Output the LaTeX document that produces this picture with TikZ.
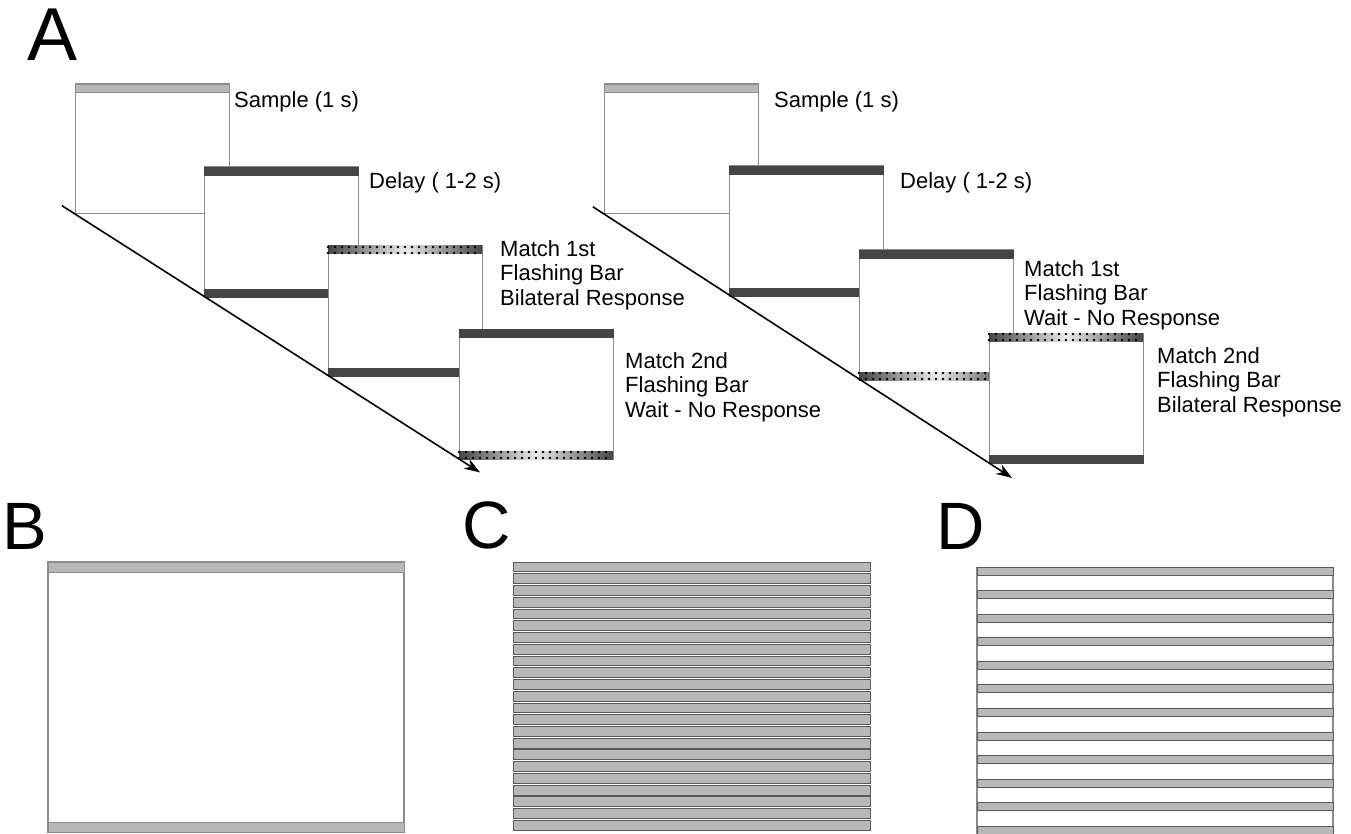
\documentclass[tikz,border=0pt]{standalone}
\usepackage{fontspec}
\setmainfont{Liberation Sans}
\usetikzlibrary{arrows.meta,calc}
\definecolor{barDark}{gray}{0.27}
\definecolor{barLight}{gray}{0.72}
\definecolor{frameGray}{gray}{0.55}

\begin{document}
\begin{tikzpicture}[x=1pt,y=-1pt]
  \tikzset{TrialBox/.style = {
    shape          = rectangle,
    anchor         = north west,
    draw           = frameGray,
    fill           = white,
    line width     = 1pt,
    inner sep      = 0pt,
    outer sep      = 0pt,
    minimum width  = 154pt,
    minimum height = 130pt
    }
  }
  \tikzset{DarkBar/.style = {
    fill       = barDark,
    draw       = barDark,
    line width = 0.6pt
    }
  }
  \tikzset{LightBar/.style = {
    fill       = barLight,
    draw       = frameGray,
    line width = 0.8pt
    }
  }
  \tikzset{FlashBar/.style = {
    left color   = barDark,
    right color  = barDark,
    middle color = gray!15
    }
  }
  \tikzset{FlashDots/.style = {
    draw         = black,
    line width   = 2.8pt,
    line cap     = round,
    dash pattern = on 0pt off 7pt
    }
  }
  \tikzset{StripeBar/.style = {
    fill       = barLight,
    draw       = gray!70!black,
    line width = 0.7pt
    }
  }
  \tikzset{TimeArrow/.style = {
    draw       = black,
    line width = 1.6pt,
    -{Stealth[length=16pt,width=11pt]}
    }
  }
  \tikzset{LabelStyle/.style = {
    anchor    = north west,
    align     = left,
    inner sep = 0pt,
    font      = \fontsize{22}{24.5}\selectfont
    }
  }
  \tikzset{PanelStyle/.style = {
    anchor    = north west,
    inner sep = 0pt
    }
  }

  \useasboundingbox (0,0) rectangle (1351,834);

  % panel A, left sequence
  \node[TrialBox](L1) at (75,84) {};
  \draw[LightBar] (L1.north west) rectangle ([yshift=-8pt]L1.north east);
  \node[TrialBox](L2) at (204,167) {};
  \draw[DarkBar] (L2.north west) rectangle ([yshift=-8pt]L2.north east);
  \draw[DarkBar] (L2.south west) rectangle ([yshift=8pt]L2.south east);
  \node[TrialBox](L3) at (328,246) {};
  \path[FlashBar] (L3.north west) rectangle ([yshift=-8pt]L3.north east);
  \draw[FlashDots] ([yshift=-1pt]L3.north west) -- ([yshift=-1pt]L3.north east);
  \draw[FlashDots] ([yshift=-7pt]L3.north west) -- ([yshift=-7pt]L3.north east);
  \draw[DarkBar] (L3.south west) rectangle ([yshift=8pt]L3.south east);
  \node[TrialBox](L4) at (459,329) {};
  \draw[DarkBar] (L4.north west) rectangle ([yshift=-8pt]L4.north east);
  \path[FlashBar] (L4.south west) rectangle ([yshift=8pt]L4.south east);
  \draw[FlashDots] ([yshift=1pt]L4.south west) -- ([yshift=1pt]L4.south east);
  \draw[FlashDots] ([yshift=7pt]L4.south west) -- ([yshift=7pt]L4.south east);

  \coordinate (L0) at ($(L1.south west)!-0.034!(L4.south west)$);
  \coordinate (L5) at ($(L1.south west)!1.055!(L4.south west)$);
  \draw[TimeArrow] (L0) -- (L5);

  \node[LabelStyle](l1) at (234,91) {Sample (1 s)};
  \node[LabelStyle](l2) at (369,172) {Delay ( 1-2 s)};
  \node[LabelStyle](l3) at (500,240) {Match 1st\\Flashing Bar\\Bilateral Response};
  \node[LabelStyle](l4) at (625,352) {Match 2nd\\Flashing Bar\\Wait - No Response};

  % panel A, right sequence
  \node[TrialBox](R1) at (604,84) {};
  \draw[LightBar] (R1.north west) rectangle ([yshift=-8pt]R1.north east);
  \node[TrialBox](R2) at (729,166) {};
  \draw[DarkBar] (R2.north west) rectangle ([yshift=-8pt]R2.north east);
  \draw[DarkBar] (R2.south west) rectangle ([yshift=8pt]R2.south east);
  \node[TrialBox](R3) at (859,250) {};
  \draw[DarkBar] (R3.north west) rectangle ([yshift=-8pt]R3.north east);
  \path[FlashBar] (R3.south west) rectangle ([yshift=8pt]R3.south east);
  \draw[FlashDots] ([yshift=1pt]R3.south west) -- ([yshift=1pt]R3.south east);
  \draw[FlashDots] ([yshift=7pt]R3.south west) -- ([yshift=7pt]R3.south east);
  \node[TrialBox](R4) at (989,333) {};
  \path[FlashBar] (R4.north west) rectangle ([yshift=-8pt]R4.north east);
  \draw[FlashDots] ([yshift=-1pt]R4.north west) -- ([yshift=-1pt]R4.north east);
  \draw[FlashDots] ([yshift=-7pt]R4.north west) -- ([yshift=-7pt]R4.north east);
  \draw[DarkBar] (R4.south west) rectangle ([yshift=8pt]R4.south east);

  \coordinate (R0) at ($(R1.south west)!-0.029!(R4.south west)$);
  \coordinate (R5) at ($(R1.south west)!1.06!(R4.south west)$);
  \draw[TimeArrow] (R0) -- (R5);

  \node[LabelStyle](r1) at (774,91) {Sample (1 s)};
  \node[LabelStyle](r2) at (900,172) {Delay ( 1-2 s)};
  \node[LabelStyle](r3) at (1024,260) {Match 1st\\Flashing Bar\\Wait - No Response};
  \node[LabelStyle](r4) at (1157,347) {Match 2nd\\Flashing Bar\\Bilateral Response};

  % panels B, C, D
  \draw[frameGray, line width=1.2pt] (48,562) rectangle (404,832);
  \draw[LightBar] (48,562) rectangle (404,572);
  \draw[LightBar] (48,822) rectangle (404,832);

  \foreach \i in {0,...,22} {
    \draw[StripeBar] (513,{562+\i*11.74}) rectangle (870,{571.8+\i*11.74});
  }

  \draw[frameGray, line width=1.2pt] (977,567) -- (977,834);
  \draw[frameGray, line width=1.2pt] (1333,567) -- (1333,834);
  \foreach \i in {0,...,11} {
    \draw[StripeBar] (977,{567+\i*23.55}) rectangle (1333,{575+\i*23.55});
  }

  \node[PanelStyle, font=\fontsize{75}{75}\selectfont](pA) at (27,9) {A};
  \node[PanelStyle, font=\fontsize{67}{67}\selectfont](pB) at (2,503) {B};
  \node[PanelStyle, font=\fontsize{67}{67}\selectfont](pC) at (462,502) {C};
  \node[PanelStyle, font=\fontsize{67}{67}\selectfont](pD) at (936,503) {D};
\end{tikzpicture}
\end{document}
